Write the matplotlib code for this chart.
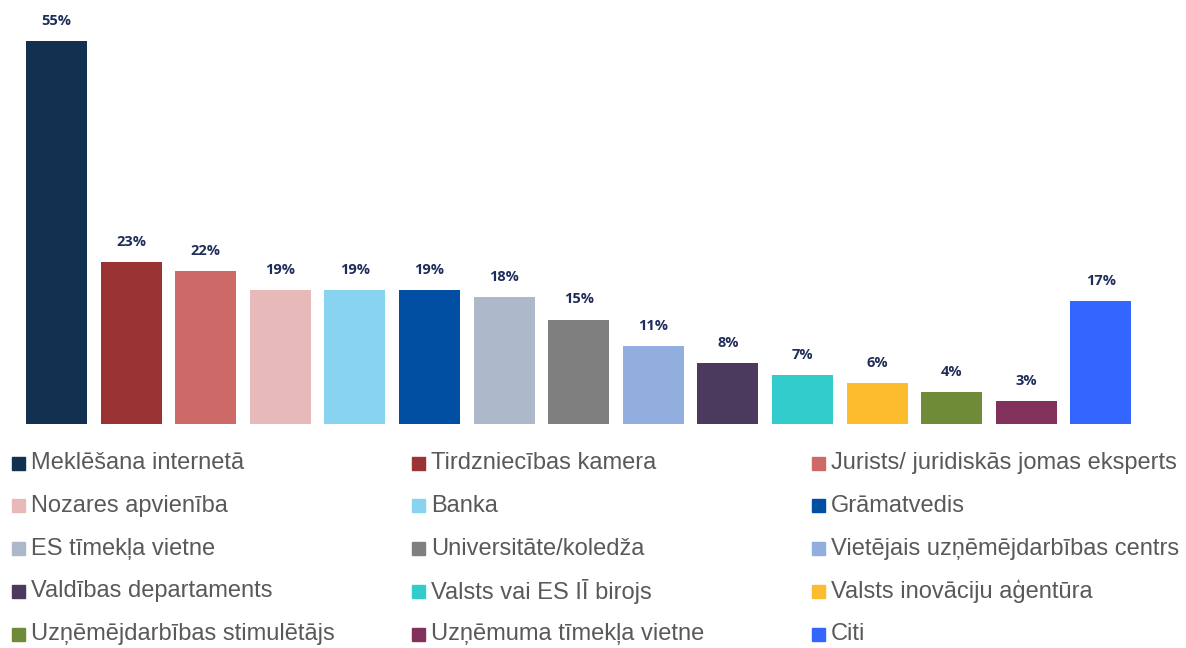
import matplotlib.pyplot as plt
from matplotlib.patches import Rectangle

categories = ['Meklēšana internetā', 'Tirdzniecības kamera', 'Jurists/ juridiskās jomas eksperts',
              'Nozares apvienība', 'Banka', 'Grāmatvedis',
              'ES tīmekļa vietne', 'Universitāte/koledža', 'Vietējais uzņēmējdarbības centrs',
              'Valdības departaments', 'Valsts vai ES IĪ birojs', 'Valsts inovāciju aģentūra',
              'Uzņēmējdarbības stimulētājs', 'Uzņēmuma tīmekļa vietne', 'Citi']
# bar heights, labels as printed
values = [55, 23.2, 22.0, 19.25, 19.25, 19.25, 18.25, 15.0, 11.2, 8.7, 7.0, 5.9, 4.6, 3.3, 17.7]
labels = ['55%', '23%', '22%', '19%', '19%', '19%', '18%', '15%', '11%', '8%', '7%', '6%', '4%', '3%', '17%']
colors = ['#12304f', '#9a3334', '#cd6967', '#e8b9b9', '#87d3f0', '#004fa3',
          '#adb9cb', '#7f7f7f', '#91aede', '#4b3a5e', '#33cccc', '#fdbc2d',
          '#6f8b38', '#82325a', '#3366ff']

W, H = 1186, 648
fig = plt.figure(figsize=(W / 100, H / 100), dpi=100)
# axes placed in pixels
left, right = 19.2, 1138.2
bottom = 648 - 424
height = 383 * 60 / 55
ax = fig.add_axes([left / W, bottom / H, (right - left) / W, height / H])

x = range(len(values))
ax.bar(x, values, width=0.82, color=colors)
for i, v in enumerate(values):
    ax.annotate(labels[i], (i, v), xytext=(0, 14.5), textcoords='offset points',
                ha='center', va='center', fontsize=10.5, fontweight='bold',
                color='#1f2d5a', family='Open Sans')
ax.set_xlim(-0.5, 14.5)
ax.set_ylim(0, 60)
ax.axis('off')

# legend, row-wise in 3 columns
for i, (name, c) in enumerate(zip(categories, colors)):
    row, col = i // 3, i % 3
    xp = 12 + 400 * col
    yp = 463 + 42.8 * row
    fig.patches.append(Rectangle((xp / W, (H - yp - 6.5) / H), 13 / W, 13 / H,
                                 transform=fig.transFigure, color=c))
    fig.text((xp + 19) / W, (H - yp) / H, name, ha='left', va='center',
             fontsize=17, color='#595959', family='Liberation Sans')

fig.savefig('out.png', dpi=100)
